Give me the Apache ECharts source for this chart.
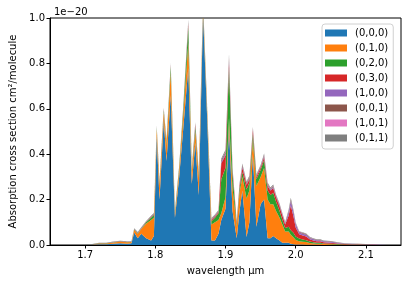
<!DOCTYPE html>
<html><head><meta charset="utf-8">
<script src="https://cdn.jsdelivr.net/npm/echarts@6/dist/echarts.min.js"></script>
<style>html,body{margin:0;padding:0;background:#fff}#c{width:407px;height:286px}</style>
</head><body><div id="c"></div>
<script>
const wavelengths = [1.700,1.710,1.720,1.730,1.740,1.750,1.760,1.766,1.770,1.775,1.780,1.787,1.794,1.798,1.802,1.806,1.812,1.816,1.822,1.828,1.834,1.840,1.847,1.852,1.857,1.862,1.868,1.874,1.880,1.885,1.890,1.894,1.900,1.905,1.910,1.916,1.920,1.924,1.930,1.934,1.939,1.944,1.950,1.955,1.960,1.964,1.968,1.972,1.977,1.981,1.985,1.990,1.993,1.997,2.000,2.005,2.010,2.015,2.020,2.025,2.030,2.035,2.040,2.050,2.060,2.070,2.080,2.090,2.100,2.110,2.120,2.130];
const s000 = [0,.002,.003,.003,.005,.008,.006,.008,.055,.030,.050,.030,.020,.040,.480,.200,.550,.370,.660,.120,.300,.520,.780,.270,.450,.220,1.02,.550,.020,.020,.050,.110,.160,.520,.150,.030,.150,.240,.035,.100,.400,.080,.180,.200,.030,.030,.040,.030,.020,.010,.010,.010,.005,.003,.002,.002,.002,.001,.001,.001,.001,.001,0,0,0,0,0,0,0,0,0,0];
const s010 = [0,.001,.004,.004,.006,.006,.006,.005,.012,.020,.020,.065,.090,.080,.030,.065,.035,.070,.100,.020,.030,.060,.110,.050,.050,.080,.030,.030,.070,.080,.060,.030,.050,.040,.100,.050,.080,.060,.170,.140,.060,.180,.120,.140,.170,.150,.140,.120,.100,.080,.050,.050,.040,.030,.020,.015,.012,.012,.008,.006,.005,.005,.004,.003,.002,.001,.001,.001,0,0,0,0];
const s020 = [0,0,.001,.001,.001,.001,.001,.001,.002,.002,.002,.005,.010,.012,.006,.008,.008,.010,.025,.006,.010,.025,.070,.010,.020,.010,.010,.010,.015,.020,.030,.150,.130,.220,.060,.010,.020,.020,.040,.035,.030,.030,.030,.035,.040,.040,.050,.040,.030,.020,.015,.020,.020,.020,.015,.012,.010,.008,.006,.005,.004,.004,.003,.003,.002,.001,.001,.001,.001,0,0,0];
const s030 = [0,0,0,0,0,.001,0,0,0,0,.001,.001,.002,.002,.002,.002,.002,.002,.004,.002,.002,.004,.010,.003,.008,.003,.003,.003,.005,.005,.005,.070,.055,.020,.015,.010,.010,.020,.020,.015,.015,.010,.010,.012,.020,.020,.020,.020,.020,.020,.015,.050,.110,.070,.040,.018,.018,.016,.010,.008,.006,.006,.005,.004,.003,.002,.001,.001,.001,.001,0,0];
const s100 = [0,0,0,0,.001,.001,.001,.001,.001,.001,.001,.001,.001,.001,.001,.001,.001,.001,.002,.001,.001,.002,.004,.001,.002,.001,.001,.001,.002,.002,.002,.008,.008,.010,.005,.001,.003,.006,.004,.004,.004,.003,.003,.005,.004,.004,.005,.004,.004,.004,.004,.015,.020,.020,.015,.008,.008,.008,.006,.006,.005,.005,.004,.004,.003,.002,.002,.001,.001,.001,.001,0];
const s001 = [0,0,.001,.001,.001,.001,.001,.001,.002,.002,.002,.002,.003,.003,.003,.003,.004,.004,.005,.002,.003,.004,.008,.004,.005,.003,.004,.003,.003,.003,.003,.006,.007,.014,.006,.002,.004,.006,.005,.005,.005,.004,.004,.005,.005,.004,.005,.004,.004,.003,.003,.005,.006,.004,.003,.003,.003,.003,.002,.002,.002,.002,.002,.002,.001,.001,.001,.001,0,0,0,0];
const s101 = [0,0,0,0,0,0,0,0,0,0,0,0,0,0,.001,0,.001,0,.001,0,0,.001,.002,.001,.001,0,.001,0,.001,.001,.001,.001,.002,.003,.001,0,.001,.001,.001,.001,.001,.001,.001,.001,.001,.001,.001,.001,.001,.001,.001,.001,.001,.001,.001,.001,.001,.001,.001,0,0,0,0,0,0,0,0,0,0,0,0,0];
const s011 = [0,.001,.001,.001,.001,.001,.001,.001,.002,.002,.002,.002,.003,.003,.004,.003,.004,.004,.005,.002,.003,.004,.008,.004,.005,.003,.004,.003,.003,.003,.003,.006,.008,.013,.006,.002,.004,.006,.005,.005,.005,.004,.004,.005,.005,.004,.005,.004,.004,.003,.003,.005,.006,.004,.003,.002,.002,.002,.002,.002,.002,.002,.002,.002,.001,.001,.001,.001,.001,0,0,0];
const seriesNames = ['(0,0,0)','(0,1,0)','(0,2,0)','(0,3,0)','(1,0,0)','(0,0,1)','(1,0,1)','(0,1,1)'];
const seriesValues = [s000,s010,s020,s030,s100,s001,s101,s011];
const xTicks = [1.7,1.8,1.9,2.0,2.1];
const colors = ['#1f77b4','#ff7f0e','#2ca02c','#d62728','#9467bd','#8c564b','#e377c2','#7f7f7f'];

const chart = echarts.init(document.getElementById('c'), null, {renderer:'canvas'});
const font = 'DejaVu Sans';
chart.setOption({
  animation:false,
  color:colors,
  title:{text:'1e\u221220',left:49,top:2,textStyle:{fontFamily:font,fontSize:10,fontWeight:'normal',color:'#000'}},
  grid:{left:50,right:6,top:18,bottom:41,show:true,borderColor:'#000',borderWidth:1,backgroundColor:'transparent'},
  legend:{
    orient:'vertical',left:322,top:24,
    data:seriesNames,
    icon:'rect',itemWidth:22,itemHeight:7,itemGap:3,
    padding:[3,5,5,3],
    borderColor:'#d0d0d0',borderWidth:1,borderRadius:3,backgroundColor:'rgba(255,255,255,0.8)',
    textStyle:{fontFamily:font,fontSize:10,color:'#000',lineHeight:12,padding:[0,0,0,3]}
  },
  xAxis:{
    type:'value',min:1.65,max:2.15,
    name:'wavelength \u03bcm',nameLocation:'middle',nameGap:21,
    nameTextStyle:{fontFamily:font,fontSize:10,color:'#000'},
    axisLine:{lineStyle:{color:'#000',width:1}},
    axisTick:{show:true,length:3.5,lineStyle:{color:'#000'},customValues:xTicks},
    axisLabel:{fontFamily:font,fontSize:10,color:'#000',margin:5,customValues:xTicks,formatter:v=>v.toFixed(1)},
    splitLine:{show:false}
  },
  yAxis:{
    type:'value',min:0,max:1,interval:0.2,
    name:'Absorption cross section cm\u00b2/molecule',nameLocation:'middle',nameGap:32,
    nameTextStyle:{fontFamily:font,fontSize:10,color:'#000'},
    axisLine:{show:true,lineStyle:{color:'#000',width:1}},
    axisTick:{show:true,length:3.5,lineStyle:{color:'#000'}},
    axisLabel:{fontFamily:font,fontSize:10,color:'#000',margin:5,formatter:v=>v.toFixed(1)},
    splitLine:{show:false}
  },
  series:seriesNames.map((n,k)=>({
    name:n,type:'line',stack:'total',symbol:'none',showSymbol:false,
    lineStyle:{width:0},areaStyle:{opacity:1,color:colors[k]},
    itemStyle:{color:colors[k]},
    encode:{x:1,y:0},
    data:wavelengths.map((w,i)=>[seriesValues[k][i],w])
  }))
});
</script></body></html>
